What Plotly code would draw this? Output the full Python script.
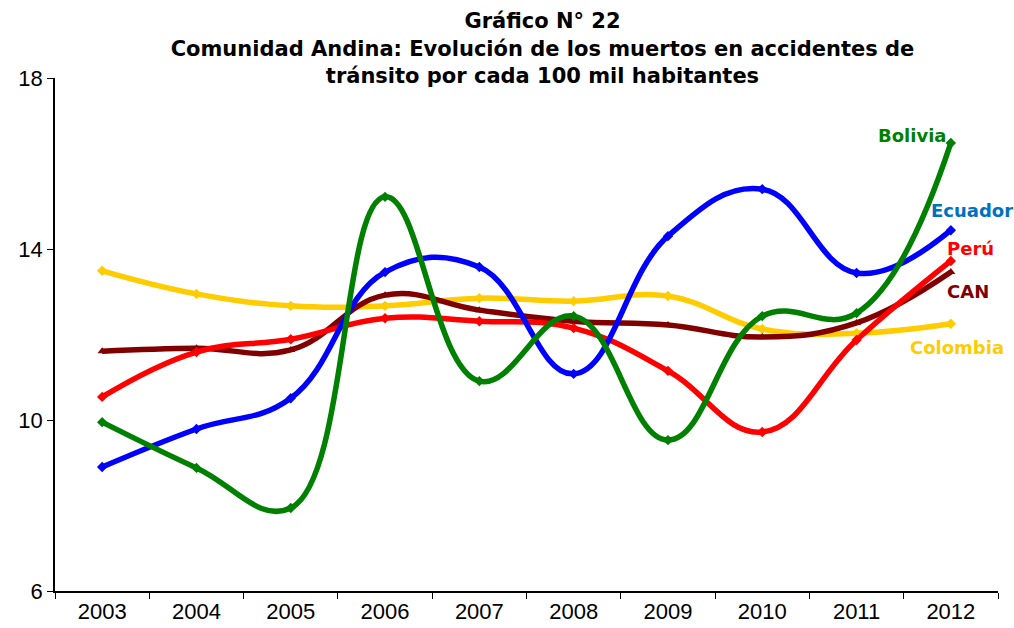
import plotly.graph_objects as go

years = ["2003", "2004", "2005", "2006", "2007", "2008", "2009", "2010", "2011", "2012"]
bolivia = [9.95, 8.88, 7.94, 15.22, 10.91, 12.43, 9.53, 12.43, 12.5, 16.48]
ecuador = [8.9, 9.79, 10.51, 13.46, 13.58, 11.08, 14.3, 15.4, 13.44, 14.44]
peru = [10.54, 11.59, 11.89, 12.38, 12.31, 12.15, 11.15, 9.72, 11.87, 13.72]
can = [11.61, 11.68, 11.64, 12.92, 12.57, 12.31, 12.22, 11.94, 12.27, 13.46]
colombia = [13.49, 12.95, 12.67, 12.67, 12.85, 12.78, 12.9, 12.13, 12.03, 12.25]

series = [
    ("Colombia", colombia, "#FFCC00", "diamond"),
    ("CAN", can, "#800000", "triangle-up"),
    ("Perú", peru, "#FF0000", "diamond"),
    ("Ecuador", ecuador, "#0000FF", "diamond"),
    ("Bolivia", bolivia, "#008000", "diamond"),
]

fig = go.Figure()
for name, vals, col, sym in series:
    fig.add_trace(go.Scatter(
        x=years, y=vals, name=name, mode="lines+markers",
        line=dict(color=col, width=5.5, shape="spline", smoothing=1.2),
        marker=dict(symbol=sym, size=8, color=col),
        showlegend=False,
    ))

# label positions in paper coordinates
labels = [
    ("Bolivia", "#008000", 0.909, 0.887),
    ("Ecuador", "#0070C0", 0.972, 0.741),
    ("Perú", "#FF0000", 0.971, 0.667),
    ("CAN", "#800000", 0.968, 0.583),
    ("Colombia", "#FFCC00", 0.957, 0.474),
]
for txt, col, x, y in labels:
    fig.add_annotation(x=x, y=y, xref="paper", yref="paper", text="<b>%s</b>" % txt,
                       showarrow=False, xanchor="center", yanchor="middle",
                       font=dict(color=col, size=18, family="DejaVu Sans"))

fig.update_layout(
    width=1014, height=628,
    margin=dict(l=55, r=16, t=78, b=37),
    paper_bgcolor="white", plot_bgcolor="white",
    font=dict(family="Liberation Sans", color="black", size=22),
    title=dict(
        text="<b>Gráfico N° 22<br>Comunidad Andina: Evolución de los muertos en accidentes de<br>tránsito por cada 100 mil habitantes</b>",
        x=0.535, xanchor="center", y=0.955, yanchor="top",
        xref="container", yref="container",
        font=dict(size=21, family="DejaVu Sans"),
    ),
    xaxis=dict(
        type="category", range=[-0.5, 9.5], showgrid=False, showline=True,
        linecolor="black", linewidth=1.5, ticks="outside", tickson="boundaries",
        ticklen=6, tickcolor="black", tickfont=dict(size=22), automargin=False,
    ),
    yaxis=dict(
        range=[6, 18], tickvals=[6, 10, 14, 18], showgrid=False, showline=True,
        linecolor="black", linewidth=1.5, ticks="outside", ticklen=6,
        tickcolor="black", tickfont=dict(size=22), zeroline=False, automargin=False,
    ),
)

fig.write_html("out.html", config={"displayModeBar": False},
               post_script="document.body.style.margin='0px';")
